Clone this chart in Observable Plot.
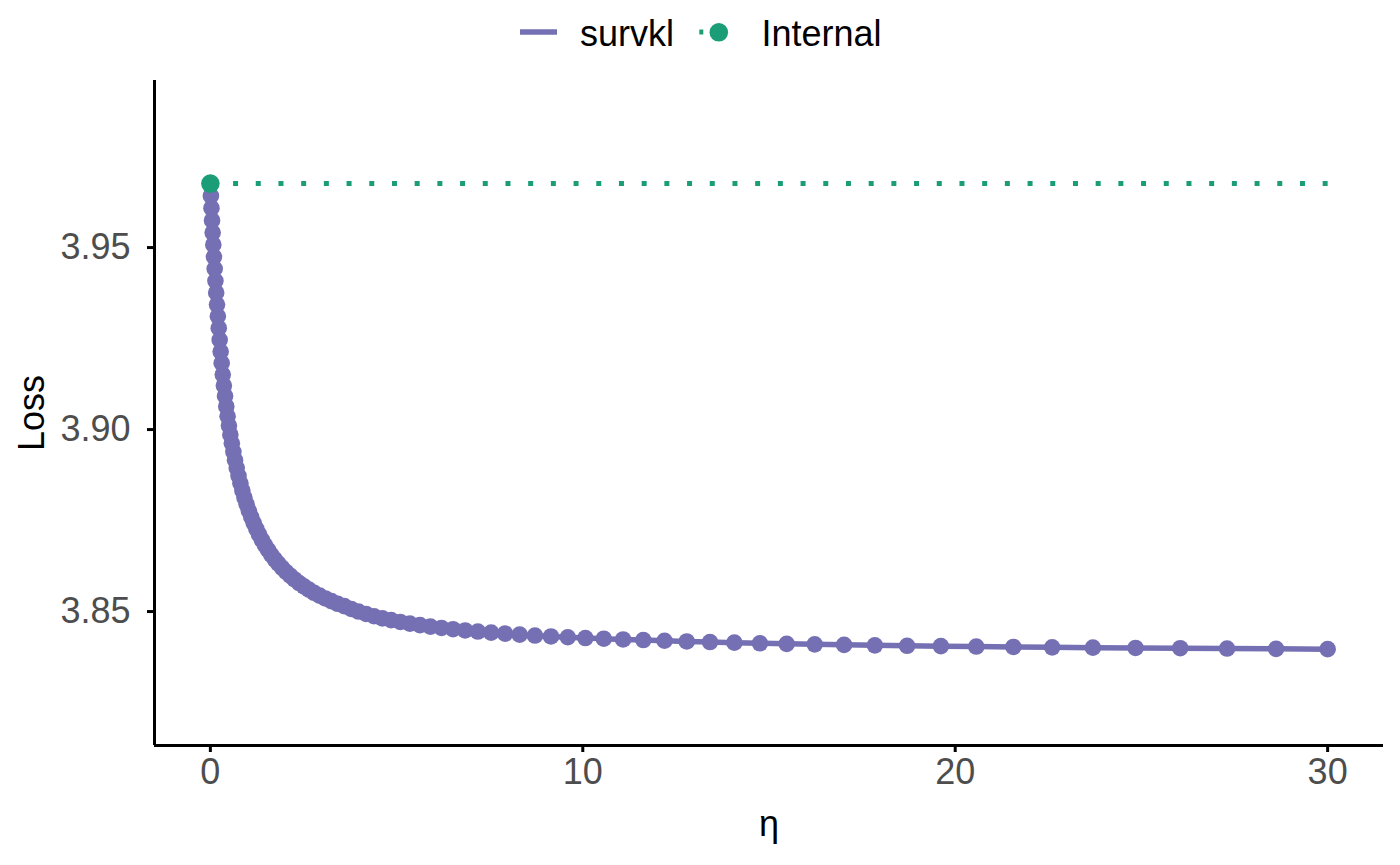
<!DOCTYPE html>
<html>
<head>
<meta charset="utf-8">
<script src="https://cdn.jsdelivr.net/npm/d3@7"></script>
<script src="https://cdn.jsdelivr.net/npm/@observablehq/plot@0.6"></script>
<style>
  html, body { margin: 0; padding: 0; background: #ffffff; }
  body { width: 1400px; height: 865px; overflow: hidden; font-family: "Liberation Sans", Arial, sans-serif; }
  #legend { display: block; width: 1400px; height: 70px; }
  #chart svg { display: block; }
</style>
</head>
<body>
<svg id="legend" width="1400" height="70" xmlns="http://www.w3.org/2000/svg"></svg>
<div id="chart"></div>
<script>
// ---- data ----
const eta = [
  0, 0.0143, 0.0293, 0.0450, 0.0615, 0.0788, 0.0968, 0.1158, 0.1356, 0.1564,
  0.1782, 0.2010, 0.2249, 0.2499, 0.2762, 0.3037, 0.3325, 0.3627, 0.3943, 0.4274,
  0.4621, 0.4985, 0.5366, 0.5765, 0.6184, 0.6622, 0.7081, 0.7562, 0.8066, 0.8594,
  0.9147, 0.9727, 1.0334, 1.0971, 1.1637, 1.2336, 1.3068, 1.3834, 1.4638, 1.5479,
  1.6361, 1.7285, 1.8253, 1.9267, 2.0330, 2.1443, 2.2610, 2.3832, 2.5112, 2.6453,
  2.7859, 2.9331, 3.0874, 3.2491, 3.4184, 3.5959, 3.7818, 3.9766, 4.1806, 4.3945,
  4.6185, 4.8532, 5.0991, 5.3567, 5.6267, 5.9095, 6.2058, 6.5163, 6.8415, 7.1823,
  7.5394, 7.9135, 8.3054, 8.7161, 9.1463, 9.5971, 10.0694, 10.5642, 11.0826, 11.6258,
  12.1949, 12.7911, 13.4158, 14.0703, 14.7561, 15.4745, 16.2273, 17.0159, 17.8423, 18.7080,
  19.6150, 20.5653, 21.5610, 22.6042, 23.6972, 24.8423, 26.0420, 27.2991, 28.6160, 30.0000
];
const survklLoss = [
  3.96758, 3.96420, 3.96082, 3.95747, 3.95412, 3.95080, 3.94747, 3.94418, 3.94088, 3.93761,
  3.93434, 3.93110, 3.92786, 3.92464, 3.92143, 3.91824, 3.91511, 3.91209, 3.90918, 3.90637,
  3.90363, 3.90110, 3.89860, 3.89621, 3.89387, 3.89159, 3.88942, 3.88728, 3.88522, 3.88324,
  3.88132, 3.87948, 3.87769, 3.87596, 3.87431, 3.87272, 3.87118, 3.86970, 3.86827, 3.86692,
  3.86560, 3.86434, 3.86316, 3.86201, 3.86088, 3.85984, 3.85882, 3.85783, 3.85692, 3.85602,
  3.85516, 3.85437, 3.85360, 3.85286, 3.85214, 3.85148, 3.85071, 3.85000, 3.84934, 3.84871,
  3.84813, 3.84764, 3.84714, 3.84668, 3.84626, 3.84585, 3.84549, 3.84514, 3.84481, 3.84451,
  3.84420, 3.84393, 3.84365, 3.84341, 3.84316, 3.84294, 3.84272, 3.84253, 3.84234, 3.84217,
  3.84198, 3.84179, 3.84162, 3.84146, 3.84129, 3.84113, 3.84099, 3.84085, 3.84071, 3.84060,
  3.84049, 3.84038, 3.84027, 3.84016, 3.84008, 3.84000, 3.83992, 3.83984, 3.83975, 3.83967
];
const internalEta = [0, 30];
const internalLoss = [3.96758, 3.96758];
const internalPointEta = [0];
const internalPointLoss = [3.96758];
const xTicks = [0, 10, 20, 30];
const yTicks = [3.85, 3.90, 3.95];
const seriesNames = ["survkl", "Internal"];
const seriesColors = ["#7570B3", "#1B9E77"];
const xLabel = "η";
const yLabel = "Loss";

// ---- tables built from the arrays ----
const curve = eta.map((e, i) => ({eta: e, loss: survklLoss[i]}));
const internal = internalEta.map((e, i) => ({eta: e, loss: internalLoss[i]}));
const internalPoint = internalPointEta.map((e, i) => ({eta: e, loss: internalPointLoss[i]}));

const FONT = "'Liberation Sans', Arial, Helvetica, sans-serif";
const xDomain = [-1.5, 31.5];
const yDomain = [3.8132, 3.9959];

const chart = Plot.plot({
  width: 1400,
  height: 795,
  marginTop: 10,
  marginBottom: 120,
  marginLeft: 154,
  marginRight: 17,
  x: {domain: xDomain, label: null},
  y: {domain: yDomain, label: null},
  style: {fontFamily: FONT, fontSize: "36px", background: "#ffffff", color: "black", overflow: "visible"},
  marks: [
    Plot.line(curve, {x: "eta", y: "loss", stroke: seriesColors[0], strokeWidth: 5.5}),
    Plot.dot(curve, {x: "eta", y: "loss", r: 8.3, fill: seriesColors[0]}),
    Plot.line(internal, {x: "eta", y: "loss", stroke: seriesColors[1], strokeWidth: 5,
      strokeDasharray: "5 17.7", strokeLinecap: "butt"}),
    Plot.dot(internalPoint, {x: "eta", y: "loss", r: 9.3, fill: seriesColors[1]}),
    Plot.ruleX([xDomain[0]], {stroke: "black", strokeWidth: 3}),
    Plot.ruleY([yDomain[0]], {stroke: "black", strokeWidth: 3}),
    Plot.axisX(xTicks, {tickSize: 7, tickPadding: 6, stroke: "black", strokeWidth: 3,
      fill: "#4D4D4D", fontSize: 36, label: null}),
    Plot.axisY(yTicks, {tickSize: 7, tickPadding: 17, stroke: "black", strokeWidth: 3,
      fill: "#4D4D4D", fontSize: 36, tickFormat: d3.format(".2f"), label: null}),
    Plot.text([yLabel], {frameAnchor: "left", dx: -122.5, rotate: -90, textAnchor: "middle",
      lineAnchor: "middle", fontSize: 36, fill: "black"}),
    Plot.text([xLabel], {frameAnchor: "bottom", dy: 78.5, textAnchor: "middle",
      lineAnchor: "middle", fontSize: 36, fill: "black"})
  ]
});
document.getElementById("chart").appendChild(chart);

// ---- legend (above the plot) ----
const lg = d3.select("#legend");
lg.append("line").attr("x1", 520).attr("x2", 557).attr("y1", 32).attr("y2", 32)
  .attr("stroke", seriesColors[0]).attr("stroke-width", 5.5);
lg.append("text").attr("x", 580).attr("y", 45.5).attr("font-family", FONT)
  .attr("font-size", 36).attr("fill", "black").text(seriesNames[0]);
lg.append("line").attr("x1", 699.3).attr("x2", 737).attr("y1", 32).attr("y2", 32)
  .attr("stroke", seriesColors[1]).attr("stroke-width", 5)
  .attr("stroke-dasharray", "4 18.7").attr("stroke-linecap", "butt");
lg.append("circle").attr("cx", 718.8).attr("cy", 32.3).attr("r", 9.3).attr("fill", seriesColors[1]);
lg.append("text").attr("x", 761.5).attr("y", 45.5).attr("font-family", FONT)
  .attr("font-size", 36).attr("fill", "black").text(seriesNames[1]);
</script>
</body>
</html>
